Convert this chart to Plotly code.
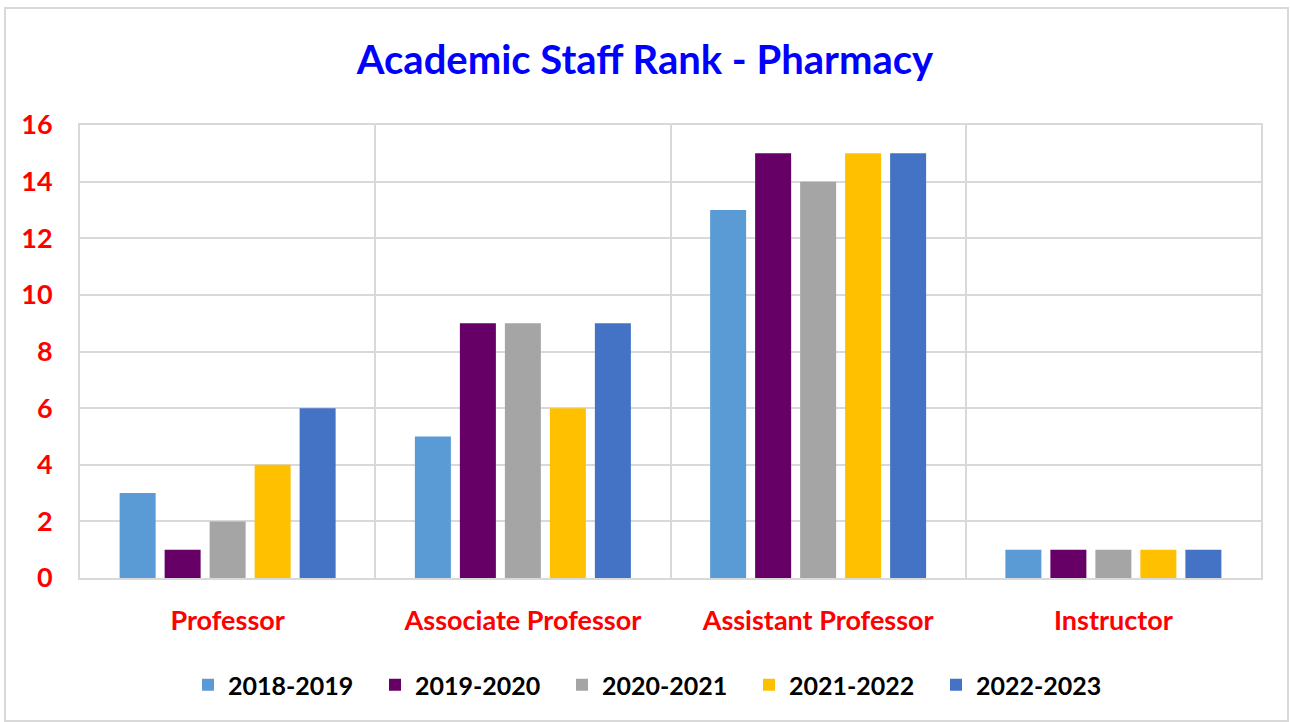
import plotly.graph_objects as go

categories = ["Professor", "Associate Professor", "Assistant Professor", "Instructor"]
years = ["2018-2019", "2019-2020", "2020-2021", "2021-2022", "2022-2023"]
v2018 = [3, 5, 13, 1]
v2019 = [1, 9, 15, 1]
v2020 = [2, 9, 14, 1]
v2021 = [4, 6, 15, 1]
v2022 = [6, 9, 15, 1]
colors = ["#5B9BD5", "#660066", "#A5A5A5", "#FFC000", "#4472C4"]

series = [v2018, v2019, v2020, v2021, v2022]

fig = go.Figure()
for name, vals, c in zip(years, series, colors):
    fig.add_trace(go.Bar(x=categories, y=vals, name=name, marker=dict(color=c, line=dict(width=0))))

L, R, T, B = 80, 29, 125, 144
W, H = 1290, 722
pw, ph = W - L - R, H - T - B

fig.update_layout(
    width=W, height=H,
    margin=dict(l=L, r=R, t=T, b=B, autoexpand=False),
    paper_bgcolor="white", plot_bgcolor="white",
    barmode="group", bargap=0.238, bargroupgap=0.2,
    title=dict(text="<b>Academic Staff Rank - Pharmacy</b>", x=0.5, xanchor="center",
               y=1 - 60 / H, yanchor="middle",
               font=dict(family="Lato", size=40, color="#0000FF")),
    legend=dict(orientation="h", x=(188 - L) / pw, xanchor="left", y=(T + ph - 685) / ph, yanchor="middle",
                font=dict(family="Lato", size=25, color="black", weight="bold"),
                itemwidth=30, traceorder="normal", entrywidth=142, entrywidthmode="pixels"),
    font=dict(family="Lato"),
    showlegend=True,
)
fig.update_xaxes(
    tickson="boundaries", showgrid=True, gridcolor="#D9D9D9", gridwidth=2,
    showline=True, linecolor="#D9D9D9", linewidth=2, mirror=True,
    ticks="", tickfont=dict(family="Lato", size=27, color="#FF0000", weight="bold"),
    ticklabelstandoff=18,
)
fig.update_yaxes(
    range=[0, 16], dtick=2, showgrid=True, gridcolor="#D9D9D9", gridwidth=2,
    showline=True, linecolor="#D9D9D9", linewidth=2, mirror=True, zeroline=False,
    ticks="", tickfont=dict(family="Lato", size=27, color="#FF0000", weight="bold"),
    ticklabelstandoff=20,
)
# outer chart border
fig.add_shape(type="rect", xref="paper", yref="paper",
              x0=(5 - L) / pw, x1=(1288 - L) / pw,
              y0=(T + ph - 721) / ph, y1=(T + ph - 8) / ph,
              line=dict(color="#D9D9D9", width=2), layer="below")

fig.write_html("out.html", config={"displayModeBar": False},
               post_script="document.body.style.margin='0px';")
